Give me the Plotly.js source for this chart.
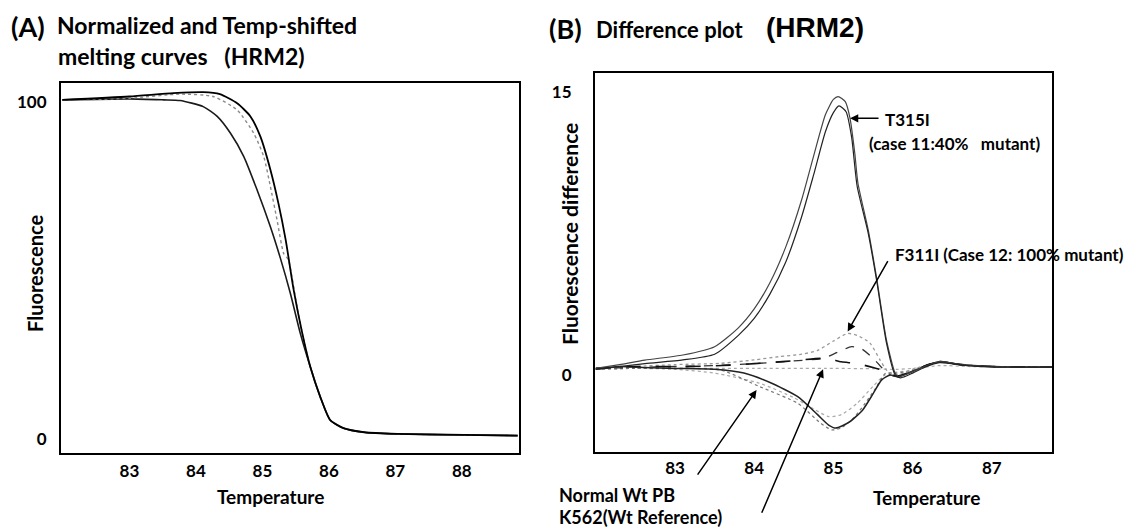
<!DOCTYPE html>
<html>
<head>
<meta charset="utf-8">
<script src="https://cdn.plot.ly/plotly-3.0.1.min.js"></script>
<style>html,body{margin:0;padding:0;background:#fff;}#chart{width:1138px;height:529px;}</style>
</head>
<body>
<div id="chart"></div>
<script>
// ---------- Panel A: normalized melting curves ----------
const aRightX = [81.99, 83.0, 83.66, 84.11, 84.36, 84.62, 84.82, 84.97, 85.12, 85.24, 85.35, 85.47, 85.6, 85.72, 85.87, 86.02, 86.22, 86.53, 87.03, 88.03, 88.84];
const aRightY = [100.5, 101.5, 102.5, 102.8, 102.2, 99.5, 95.6, 89.6, 79.8, 69.9, 59.0, 44.2, 31.3, 21.4, 12.5, 5.6, 3.2, 2.0, 1.5, 1.2, 1.0];
const aMidX = [81.99, 83.0, 83.76, 84.26, 84.62, 84.87, 85.02, 85.12, 85.22, 85.32, 85.39, 85.52, 85.6, 85.72, 85.87, 86.02, 86.22, 86.53, 87.03, 88.03, 88.84];
const aMidY = [100.4, 101.0, 102.2, 101.5, 97.5, 90.6, 83.7, 74.8, 64.9, 55.0, 53.1, 39.2, 31.3, 21.4, 12.5, 5.6, 3.2, 2.0, 1.5, 1.2, 1.0];
const aLeftX = [81.99, 83.0, 83.51, 83.76, 84.11, 84.32, 84.52, 84.72, 84.92, 85.12, 85.27, 85.42, 85.57, 85.72, 85.87, 86.02, 86.22, 86.53, 87.03, 88.03, 88.84];
const aLeftY = [100.5, 100.8, 100.5, 100.3, 98.5, 95.6, 90.6, 83.7, 73.8, 62.9, 53.6, 43.2, 31.3, 21.4, 12.5, 5.6, 3.2, 2.0, 1.5, 1.2, 1.0];
const aXTicks = [83, 84, 85, 86, 87, 88];
const aYTicks = [0, 100];

// ---------- Panel B: difference plot ----------
const bT1X = [82.0, 82.3, 82.62, 83.1, 83.5, 83.8, 84.0, 84.2, 84.4, 84.6, 84.75, 84.9, 85.0, 85.06, 85.15, 85.21, 85.27, 85.31, 85.44, 85.55, 85.67, 85.78, 85.82, 85.9, 86.0, 86.15, 86.34, 86.5, 86.68, 87.06, 87.4, 87.76];
const bT1Y = [0.35, 0.55, 0.79, 1.06, 1.5, 2.5, 3.5, 4.9, 6.8, 9.3, 11.6, 13.8, 14.6, 14.75, 14.48, 13.6, 11.75, 10.16, 7.68, 5.03, 1.85, 0.09, -0.09, 0.0, 0.17, 0.45, 0.7, 0.62, 0.53, 0.44, 0.42, 0.42];
const bT2X = [82.0, 82.62, 83.1, 83.5, 83.8, 84.0, 84.2, 84.4, 84.6, 84.75, 84.9, 85.0, 85.07, 85.16, 85.23, 85.3, 85.44, 85.55, 85.67, 85.78, 85.85, 86.0, 86.15, 86.34, 86.68, 87.06, 87.76];
const bT2Y = [0.3, 0.6, 0.8, 1.1, 2.1, 3.0, 4.3, 6.0, 8.4, 10.6, 12.9, 13.9, 14.26, 13.95, 12.6, 10.0, 7.5, 4.9, 1.7, 0.0, -0.15, 0.1, 0.4, 0.65, 0.5, 0.42, 0.42];
const bF1X = [82.0, 82.5, 83.0, 83.58, 84.0, 84.31, 84.6, 84.8, 85.0, 85.18, 85.3, 85.46, 85.59, 85.67, 85.75, 85.85, 86.0, 86.2, 86.35, 86.6, 87.0, 87.76];
const bF1Y = [0.3, 0.45, 0.55, 0.62, 0.8, 0.97, 1.1, 1.3, 1.8, 2.2, 2.1, 1.70, 0.79, 0.26, 0.0, 0.05, 0.3, 0.55, 0.7, 0.55, 0.45, 0.42];
const bF2X = [82.0, 82.5, 83.0, 83.5, 84.0, 84.5, 84.87, 85.05, 85.23, 85.35, 85.5, 85.62, 85.72, 85.82, 86.0, 86.2, 86.35, 86.6, 87.0, 87.76];
const bF2Y = [0.35, 0.4, 0.45, 0.5, 0.6, 0.75, 0.88, 1.2, 1.5, 1.4, 0.9, 0.35, 0.0, -0.1, 0.2, 0.55, 0.72, 0.55, 0.45, 0.42];
const bL1X = [82.0, 82.5, 83.1, 83.6, 84.0, 84.4, 84.84, 84.95, 85.1, 85.3, 85.5, 85.65, 85.8, 86.0, 86.2, 86.35, 86.6, 87.0, 87.76];
const bL1Y = [0.35, 0.45, 0.44, 0.5, 0.6, 0.72, 0.88, 0.85, 0.7, 0.6, 0.4, 0.2, -0.05, 0.2, 0.55, 0.7, 0.55, 0.45, 0.42];
const bRefX = [82.0, 83.0, 84.0, 85.0, 85.5, 85.8, 86.0, 86.35, 86.7, 87.76];
const bRefY = [0.35, 0.35, 0.35, 0.35, 0.33, 0.3, 0.35, 0.5, 0.45, 0.42];
const bN1X = [82.0, 82.5, 83.0, 83.58, 84.07, 84.55, 84.84, 84.98, 85.1, 85.27, 85.4, 85.52, 85.66, 85.8, 86.0, 86.2, 86.35, 86.6, 87.0, 87.76];
const bN1Y = [0.3, 0.35, 0.35, 0.26, -0.62, -1.5, -2.56, -2.91, -2.8, -2.21, -1.5, -0.79, 0.09, 0.1, 0.25, 0.55, 0.7, 0.55, 0.45, 0.42];
const bN2X = [82.0, 82.5, 83.0, 83.5, 84.07, 84.5, 84.75, 84.94, 85.1, 85.3, 85.5, 85.65, 85.8, 86.0, 86.2, 86.35, 86.6, 87.0, 87.76];
const bN2Y = [0.3, 0.35, 0.3, 0.1, -0.44, -1.2, -1.8, -2.21, -2.1, -1.5, -0.6, 0.0, 0.15, 0.25, 0.55, 0.7, 0.55, 0.45, 0.42];
const bN3X = [82.0, 82.3, 82.6, 83.0, 83.5, 83.87, 84.2, 84.55, 84.8, 84.94, 85.03, 85.2, 85.37, 85.5, 85.61, 85.72, 85.82, 86.0, 86.2, 86.35, 86.6, 87.0, 87.76];
const bN3Y = [0.3, 0.45, 0.4, 0.35, 0.3, 0.1, -0.4, -1.15, -2.1, -2.65, -2.81, -2.5, -1.85, -1.0, -0.26, 0.0, -0.1, 0.2, 0.55, 0.72, 0.55, 0.45, 0.42];
const bXTicks = [83, 84, 85, 86, 87];
const bYTicks = [0, 15];

const F = 'Lato, "Open Sans", sans-serif';
function ln(x, y, color, width, dash, xa, ya) {
  return {x: x, y: y, type: 'scatter', mode: 'lines', xaxis: xa, yaxis: ya, hoverinfo: 'skip',
          line: {color: color, width: width, dash: dash || 'solid', shape: 'spline', smoothing: 0.6}};
}
const traces = [
  ln(aLeftX, aLeftY, '#1a1a1a', 1.6, 'solid', 'x', 'y'),
  ln(aMidX, aMidY, '#8a8a8a', 1.4, 'dot', 'x', 'y'),
  ln(aRightX, aRightY, '#000', 1.8, 'solid', 'x', 'y'),
  ln(bRefX, bRefY, '#aaa', 1.2, 'dot', 'x2', 'y2'),
  ln(bN2X, bN2Y, '#aaa', 1.2, 'dot', 'x2', 'y2'),
  ln(bN1X, bN1Y, '#777', 1.2, 'dot', 'x2', 'y2'),
  ln(bN3X, bN3Y, '#222', 1.5, 'solid', 'x2', 'y2'),
  ln(bF1X, bF1Y, '#999', 1.3, 'dot', 'x2', 'y2'),
  ln(bF2X, bF2Y, '#333', 1.3, 'dash', 'x2', 'y2'),
  ln(bL1X, bL1Y, '#111', 1.6, 'longdash', 'x2', 'y2'),
  ln(bT1X, bT1Y, '#444', 1.2, 'solid', 'x2', 'y2'),
  ln(bT2X, bT2Y, '#222', 1.2, 'solid', 'x2', 'y2')
];

const W = 1138, H = 529;
const px = v => v / W, py = v => 1 - v / H;
function txt(text, x, y, size, opts) {
  return Object.assign({text: text, xref: 'paper', yref: 'paper', x: px(x), y: py(y), showarrow: false,
    xanchor: 'left', yanchor: 'middle', font: {family: F, size: size, color: '#000', weight: 'bold'}}, opts || {});
}
function arr(x, y, ax, ay) {
  return {text: '', xref: 'x2', yref: 'y2', x: x, y: y, ax: ax, ay: ay, showarrow: true,
    arrowhead: 2, arrowsize: 1.1, arrowwidth: 1.5, arrowcolor: '#000'};
}
const annotations = [
  txt('(A)', 9, 26, 27),
  txt('Normalized and Temp-shifted', 55, 25, 23),
  txt('melting curves\u00A0\u00A0\u00A0(HRM2)', 56, 56, 23),
  txt('(B)', 547, 29, 27),
  txt('Difference plot', 594, 30, 22),
  txt('(HRM2)', 764, 28, 28, {font: {family: '"Liberation Sans", Arial, sans-serif', size: 28, color: '#000', weight: 'bold'}}),
  txt('Fluorescence', 35, 274, 20, {textangle: -90, xanchor: 'center'}),
  txt('Temperature', 270, 496, 19, {xanchor: 'center'}),
  txt('Fluorescence difference', 569, 234, 21, {textangle: -90, xanchor: 'center'}),
  txt('Temperature', 926, 497, 19, {xanchor: 'center'}),
  txt('T315I', 883, 119, 17),
  txt('(case 11:40%\u00A0\u00A0\u00A0mutant)', 867, 144, 17),
  txt('F311I (Case 12: 100% mutant)', 893, 255, 17),
  txt('Normal Wt PB', 557, 495, 18),
  txt('K562(Wt Reference)', 557, 517, 18),
  arr(85.21, 13.6, 30, 0),
  arr(85.18, 2.3, 41, -72),
  arr(84.03, -0.8, -60, 86),
  arr(84.87, 0.3, -62, 145)
];

function axis(extra) {
  return Object.assign({showline: true, mirror: true, linewidth: 2, linecolor: '#000', showgrid: false,
    zeroline: false, ticks: '', tickmode: 'array', fixedrange: true,
    tickfont: {family: F, size: 17, color: '#000', weight: 'bold'}}, extra);
}
const layout = {
  width: W, height: H, margin: {l: 0, r: 0, t: 0, b: 0}, paper_bgcolor: '#fff', plot_bgcolor: '#fff',
  showlegend: false,
  xaxis: axis({domain: [61 / W, 519 / W], range: [81.97, 88.86], tickvals: aXTicks, ticktext: aXTicks.map(String), anchor: 'y', ticklabelstandoff: 2}),
  yaxis: axis({domain: [(H - 453) / H, (H - 83) / H], range: [-4.15, 105.5], tickvals: aYTicks, ticktext: aYTicks.map(String), anchor: 'x', ticklabelstandoff: 9}),
  xaxis2: axis({domain: [595 / W, 1052 / W], range: [81.99, 87.76], tickvals: bXTicks, ticktext: bXTicks.map(String), anchor: 'y2', ticklabelstandoff: 0}),
  yaxis2: axis({domain: [(H - 452) / H, (H - 73) / H], range: [-4.08, 16.0], tickvals: bYTicks, ticktext: bYTicks.map(String), anchor: 'x2', ticklabelstandoff: 18}),
  annotations: annotations
};
Plotly.newPlot('chart', traces, layout, {staticPlot: true, displayModeBar: false});
</script>
</body>
</html>
